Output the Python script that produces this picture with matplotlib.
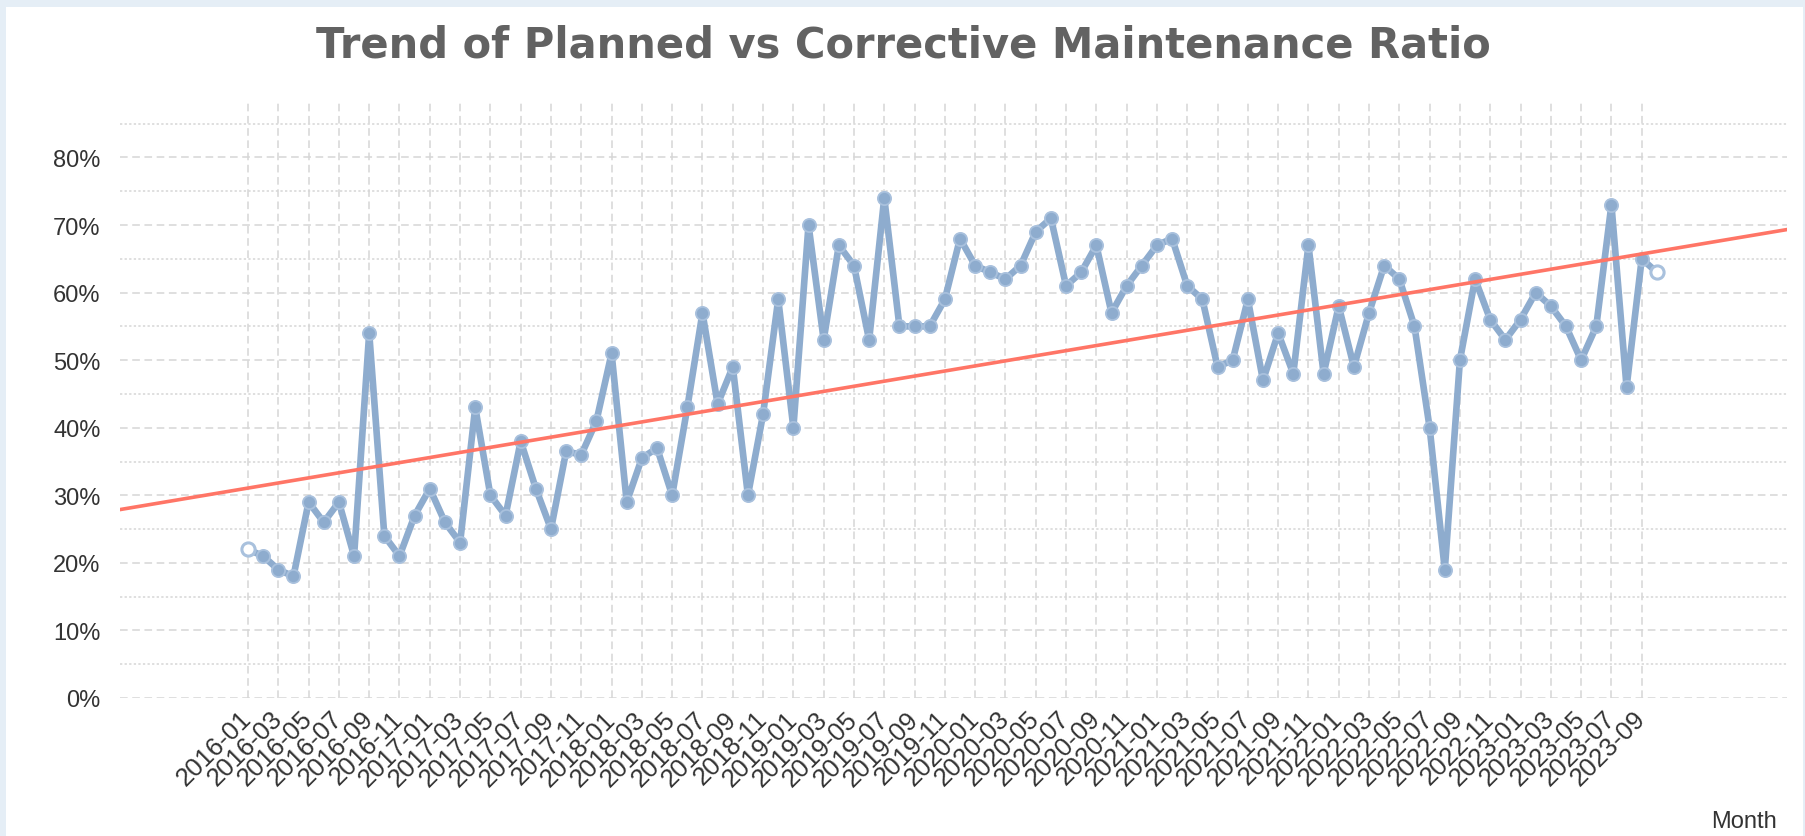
import matplotlib
matplotlib.use("Agg")
import matplotlib.pyplot as plt
import numpy as np
import pandas as pd
from matplotlib.patches import Rectangle
from matplotlib.ticker import MultipleLocator, FuncFormatter

# monthly ratio of planned vs corrective maintenance (%), 2016-01 .. 2023-10
months = pd.period_range("2016-01", "2023-10", freq="M").strftime("%Y-%m").tolist()
ratio_pct = [
    22, 21, 19, 18, 29, 26, 29, 21, 54, 24, 21, 27,          # 2016
    31, 26, 23, 43, 30, 27, 38, 31, 25, 36.5, 36, 41,        # 2017
    51, 29, 35.5, 37, 30, 43, 57, 43.5, 49, 30, 42, 59,      # 2018
    40, 70, 53, 67, 64, 53, 74, 55, 55, 55, 59, 68,          # 2019
    64, 63, 62, 64, 69, 71, 61, 63, 67, 57, 61, 64,          # 2020
    67, 68, 61, 59, 49, 50, 59, 47, 54, 48, 67, 48,          # 2021
    58, 49, 57, 64, 62, 55, 40, 19, 50, 62, 56, 53,          # 2022
    56, 60, 58, 55, 50, 55, 73, 46, 65, 63,                  # 2023
]
ratio = np.array(ratio_pct) / 100.0
x = np.arange(len(months))

title = "Trend of Planned vs Corrective Maintenance Ratio"
line_col = "#8eacce"
trend_col = "#ff7566"
grid_col = "#d6d6d6"
text_col = "#333333"

fig = plt.figure(figsize=(18.06, 8.37), dpi=100, facecolor="#e5eef6")
fig.add_artist(Rectangle((6 / 1806, 0), 1797 / 1806, 829 / 837,
                         transform=fig.transFigure, facecolor="white",
                         edgecolor="none", zorder=-10))

ax = fig.add_axes([120 / 1806, 138 / 837, (1787 - 120) / 1806, (699 - 101) / 837])
ax.set_facecolor("white")
for s in ax.spines.values():
    s.set_visible(False)

xlim = (-8.45, 101.59)
ax.set_xlim(*xlim)
ax.set_ylim(0, 0.885)

# grid
ax.yaxis.set_major_locator(MultipleLocator(0.1))
ax.yaxis.set_minor_locator(MultipleLocator(0.05))
ax.set_xticks(x[::2])
ax.grid(True, which="major", axis="y", color=grid_col, linestyle=(0, (5, 3)), linewidth=1.1)
ax.grid(True, which="minor", axis="y", color=grid_col, linestyle=(0, (1.5, 1.5)), linewidth=1.1)
ax.grid(True, which="major", axis="x", color=grid_col, linestyle=(0, (5, 3)), linewidth=1.1)
ax.set_axisbelow(True)

# series
ax.plot(x, ratio, color=line_col, linewidth=4.8, marker="o", markersize=9.5,
        markerfacecolor=line_col, markeredgecolor="#a9c1dd", markeredgewidth=1.3,
        zorder=3, solid_joinstyle="round")
ax.plot(x[[0, -1]], ratio[[0, -1]], linestyle="none", marker="o", markersize=9.5,
        markerfacecolor="white", markeredgecolor="#a9c1dd", markeredgewidth=2.2, zorder=4)

# linear trend
slope, intercept = np.polyfit(x, ratio, 1)
tx = np.array(xlim)
ax.plot(tx, intercept + slope * tx, color=trend_col, linewidth=2.6, zorder=5)

# ticks
font = ["Liberation Sans", "DejaVu Sans"]
ax.yaxis.set_major_formatter(FuncFormatter(lambda v, p: f"{v * 100:.0f}%"))
ax.tick_params(axis="both", which="both", length=0, colors=text_col)
ax.tick_params(axis="y", pad=14)
ax.tick_params(axis="x", pad=12)
for lab in ax.get_yticklabels():
    lab.set_fontfamily(font)
    lab.set_fontsize(17)
ax.set_xticklabels(months[::2], rotation=45, ha="right", va="center",
                   rotation_mode="anchor", fontsize=18.5, family=font, color=text_col)

fig.text(1777 / 1806, 1 - 822 / 837, "Month", ha="right", va="center",
         fontsize=17, family=font, color=text_col)
fig.text(0.5, 1 - 45 / 837, title, ha="center", va="center", fontsize=30,
         fontweight="bold", color="#626262", family=["DejaVu Sans"])

fig.savefig("out.png", dpi=100, facecolor=fig.get_facecolor())
